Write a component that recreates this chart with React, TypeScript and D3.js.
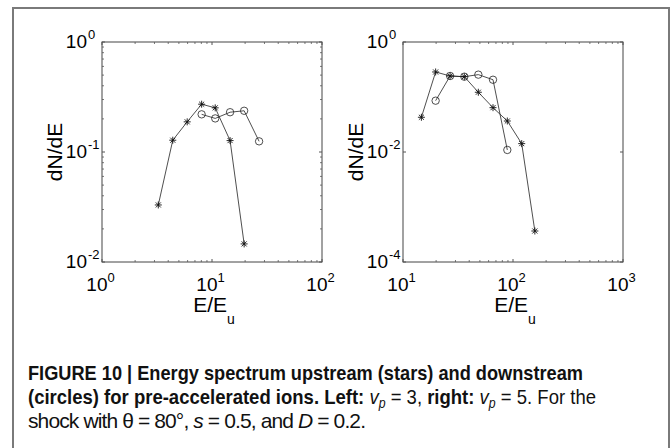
import * as d3 from "d3"

// left panel (v_p = 3)
const leftUpE = [3.25, 4.4, 5.95, 8.05, 10.7, 14.6, 19.6]
const leftUp = [0.033, 0.128, 0.188, 0.272, 0.252, 0.127, 0.0146]
const leftDownE = [8.05, 10.7, 14.6, 19.6, 26.8]
const leftDown = [0.22, 0.202, 0.23, 0.237, 0.125]

// right panel (v_p = 5)
const rightUpE = [14.7, 19.8, 26.8, 36.1, 48.4, 65.8, 88.8, 120, 158]
const rightUp = [0.0428, 0.285, 0.241, 0.234, 0.122, 0.064, 0.0366, 0.0142, 0.000366]
const rightDownE = [19.8, 26.8, 36.1, 48.4, 65.8, 88.8]
const rightDown = [0.0857, 0.241, 0.234, 0.255, 0.206, 0.0109]

const leftXTicks = [0, 1, 2]
const leftYTicks = [0, -1, -2]
const rightXTicks = [1, 2, 3]
const rightYTicks = [0, -2, -4]

const FONT = "'Liberation Sans', Arial, Helvetica, sans-serif"
const CAPTION_FONT = "'Liberation Sans Narrow', 'Liberation Sans', Arial, sans-serif"

interface PanelProps {
  x0: number
  xDomain: [number, number]
  yDomain: [number, number]
  xTicks: number[]
  yTicks: number[]
  yMinor: boolean
  upE: number[]
  up: number[]
  downE: number[]
  down: number[]
}

const Panel = ({ x0, xDomain, yDomain, xTicks, yTicks, yMinor, upE, up, downE, down }: PanelProps) => {
  const top = 42
  const size = 220
  const x = d3.scaleLog().domain(xDomain).range([x0, x0 + size])
  const y = d3.scaleLog().domain(yDomain).range([top + size, top])

  // minor ticks 2..9 inside each decade
  const minors = (dom: [number, number]) => {
    const out: number[] = []
    for (let p = Math.round(Math.log10(dom[0])); p < Math.round(Math.log10(dom[1])); p++) {
      for (let m = 2; m <= 9; m++) out.push(m * Math.pow(10, p))
    }
    return out
  }
  const xMinor = minors(xDomain)
  const yMinorVals = yMinor ? minors(yDomain) : []

  const path = (es: number[], vs: number[]) =>
    d3
      .line<number>()
      .x((d) => x(d))
      .y((_, i) => y(vs[i]))(es) || ""

  const tickColor = "#555"
  const bottom = top + size
  const right = x0 + size

  return (
    <g>
      <rect x={x0} y={top} width={size} height={size} fill="none" stroke="#444" strokeWidth={1} />
      {/* minor ticks */}
      {xMinor.map((v, i) => (
        <g key={"xm" + i} stroke={tickColor} strokeWidth={0.8}>
          <line x1={x(v)} x2={x(v)} y1={bottom} y2={bottom - 2} />
          <line x1={x(v)} x2={x(v)} y1={top} y2={top + 2} />
        </g>
      ))}
      {yMinorVals.map((v, i) => (
        <g key={"ym" + i} stroke={tickColor} strokeWidth={0.8}>
          <line x1={x0} x2={x0 + 2} y1={y(v)} y2={y(v)} />
          <line x1={right} x2={right - 2} y1={y(v)} y2={y(v)} />
        </g>
      ))}
      {/* major ticks and labels */}
      {xTicks.map((e) => (
        <g key={"xt" + e}>
          <line x1={x(10 ** e)} x2={x(10 ** e)} y1={bottom} y2={bottom - 3} stroke={tickColor} />
          <line x1={x(10 ** e)} x2={x(10 ** e)} y1={top} y2={top + 3} stroke={tickColor} />
          <text x={x(10 ** e) - 1.5} y={291} textAnchor="middle" fontSize={19} fontFamily={FONT}>
            10
            <tspan fontSize={13} dy={-9}>
              {e}
            </tspan>
          </text>
        </g>
      ))}
      {yTicks.map((e) => (
        <g key={"yt" + e}>
          <line x1={x0} x2={x0 + 3} y1={y(10 ** e)} y2={y(10 ** e)} stroke={tickColor} />
          <line x1={right} x2={right - 3} y1={y(10 ** e)} y2={y(10 ** e)} stroke={tickColor} />
          <text x={x0 - 15} y={y(10 ** e) + 6} textAnchor="end" fontSize={19} fontFamily={FONT}>
            10
          </text>
          <text x={x0 - 14} y={y(10 ** e) - 3} fontSize={13} fontFamily={FONT}>
            {e}
          </text>
        </g>
      ))}
      {/* axis titles */}
      <text
        transform={`translate(${x0 - 40},${top + size / 2}) rotate(-90)`}
        textAnchor="middle"
        fontSize={21}
        fontFamily={FONT}
      >
        dN/dE
      </text>
      <text x={x0 + size / 2 + 2} y={312} textAnchor="middle" fontSize={21} fontFamily={FONT}>
        E/E
        <tspan fontSize={14} dy={12}>
          u
        </tspan>
      </text>
      {/* series */}
      <path d={path(upE, up)} fill="none" stroke="#222" strokeWidth={0.8} />
      <path d={path(downE, down)} fill="none" stroke="#222" strokeWidth={0.8} />
      {upE.map((e, i) => {
        const cx = x(e)
        const cy = y(up[i])
        const r = 3.5
        const q = r * 0.72
        return (
          <g key={"s" + i} stroke="#111" strokeWidth={0.9}>
            <line x1={cx - r} x2={cx + r} y1={cy} y2={cy} />
            <line x1={cx} x2={cx} y1={cy - r} y2={cy + r} />
            <line x1={cx - q} x2={cx + q} y1={cy - q} y2={cy + q} />
            <line x1={cx - q} x2={cx + q} y1={cy + q} y2={cy - q} />
          </g>
        )
      })}
      {downE.map((e, i) => (
        <circle key={"c" + i} cx={x(e)} cy={y(down[i])} r={3.7} fill="none" stroke="#222" strokeWidth={0.8} />
      ))}
    </g>
  )
}

const App = () => {
  return (
    <svg width={671} height={448} style={{ position: "absolute", left: 0, top: 0, background: "#fff" }}>
      <rect x={0} y={0} width={671} height={448} fill="#fff" />
      <rect x={13} y={8} width={656} height={470} fill="none" stroke="#7a7a7a" strokeWidth={2} />
      <Panel
        x0={102}
        xDomain={[1, 100]}
        yDomain={[0.01, 1]}
        xTicks={leftXTicks}
        yTicks={leftYTicks}
        yMinor={true}
        upE={leftUpE}
        up={leftUp}
        downE={leftDownE}
        down={leftDown}
      />
      <Panel
        x0={403}
        xDomain={[10, 1000]}
        yDomain={[0.0001, 1]}
        xTicks={rightXTicks}
        yTicks={rightYTicks}
        yMinor={false}
        upE={rightUpE}
        up={rightUp}
        downE={rightDownE}
        down={rightDown}
      />
      {/* caption */}
      <g fontFamily={CAPTION_FONT} fontSize={21} fill="#111">
        <text x={28} y={380} fontWeight="bold" textLength={555} lengthAdjust="spacingAndGlyphs">
          FIGURE 10 | Energy spectrum upstream (stars) and downstream
        </text>
        <text x={28} y={404} textLength={568} lengthAdjust="spacingAndGlyphs">
          <tspan fontWeight="bold">(circles) for pre-accelerated ions. Left: </tspan>
          <tspan fontStyle="italic">v</tspan>
          <tspan fontStyle="italic" fontSize={14} dy={4}>
            p
          </tspan>
          <tspan dy={-4}> = 3, </tspan>
          <tspan fontWeight="bold">right: </tspan>
          <tspan fontStyle="italic">v</tspan>
          <tspan fontStyle="italic" fontSize={14} dy={4}>
            p
          </tspan>
          <tspan dy={-4}> = 5. For the</tspan>
        </text>
        <text x={28} y={428} textLength={338} lengthAdjust="spacing">
          shock with θ = 80°, <tspan fontStyle="italic">s</tspan> = 0.5, and <tspan fontStyle="italic">D</tspan> ={" "}
          0.2.
        </text>
      </g>
    </svg>
  )
}

export default App
